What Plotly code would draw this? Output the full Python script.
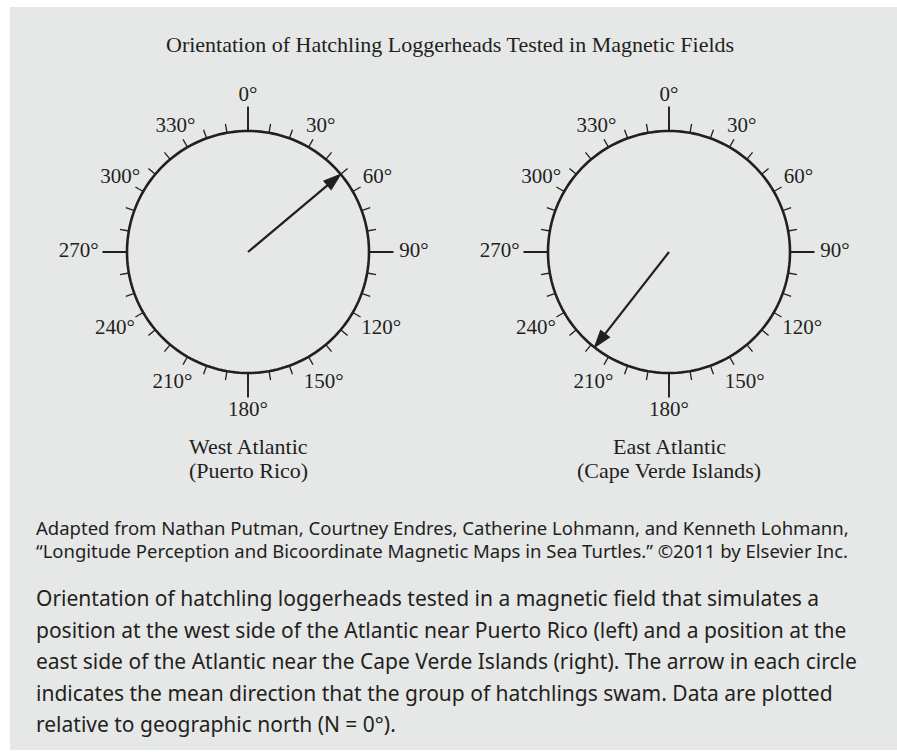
import plotly.graph_objects as go

# ---------------- data ----------------
title_text = "Orientation of Hatchling Loggerheads Tested in Magnetic Fields"
panel_names = ["West Atlantic", "East Atlantic"]
panel_places = ["(Puerto Rico)", "(Cape Verde Islands)"]
mean_direction_deg = [50, 218]          # mean swimming direction of each group
minor_tick_angles = list(range(0, 360, 10))
label_angles = [0, 30, 60, 90, 120, 150, 180, 210, 240, 270, 300, 330]
label_texts = [f"{a}°" for a in label_angles]
cardinal_angles = [0, 90, 180, 270]
source_lines = [
    "Adapted from Nathan Putman, Courtney Endres, Catherine Lohmann, and Kenneth Lohmann,",
    "“Longitude Perception and Bicoordinate Magnetic Maps in Sea Turtles.” ©2011 by Elsevier Inc.",
]
caption_lines = [
    "Orientation of hatchling loggerheads tested in a magnetic field that simulates a",
    "position at the west side of the Atlantic near Puerto Rico (left) and a position at the",
    "east side of the Atlantic near the Cape Verde Islands (right). The arrow in each circle",
    "indicates the mean direction that the group of hatchlings swam. Data are plotted",
    "relative to geographic north (N = 0°).",
]

# ---------------- style ----------------
W, H = 897, 752
ink = "#231f20"
bg = "#e6e7e7"
serif = "Liberation Serif, Times New Roman, serif"
sans = "Noto Sans, Open Sans, sans-serif"
centers_px = [248, 669]
cy_px = 252
R_px = 121            # circle radius in px
R_MAX = 1.5           # radial range (circle is drawn at r = 1)
minor_len = 9 / R_px
major_len = 24.5 / R_px
label_radius = {0: 1.29, 30: 1.20, 60: 1.235, 90: 1.372, 120: 1.27, 150: 1.25,
                180: 1.31, 210: 1.25, 240: 1.27, 270: 1.40, 300: 1.22, 330: 1.20}


def seg(angles, r0, r1):
    r, t = [], []
    for a in angles:
        r += [r0, r1, None]
        t += [a, a, None]
    return r, t


fig = go.Figure()

for i, d in enumerate(mean_direction_deg):
    pid = "polar" if i == 0 else f"polar{i + 1}"
    common = dict(subplot=pid, showlegend=False, hoverinfo="skip")
    # circle
    circ_t = list(range(0, 361, 2))
    fig.add_trace(go.Scatterpolar(r=[1] * len(circ_t), theta=circ_t, mode="lines",
                                  line=dict(color=ink, width=2.6), **common))
    # minor ticks
    r, t = seg(minor_tick_angles, 1, 1 + minor_len)
    fig.add_trace(go.Scatterpolar(r=r, theta=t, mode="lines",
                                  line=dict(color=ink, width=1.3), **common))
    # major ticks
    r, t = seg(cardinal_angles, 1, 1 + major_len)
    fig.add_trace(go.Scatterpolar(r=r, theta=t, mode="lines",
                                  line=dict(color=ink, width=1.9), **common))
    # degree labels
    fig.add_trace(go.Scatterpolar(
        r=[label_radius[a] for a in label_angles], theta=label_angles,
        mode="text", text=label_texts, textposition="middle center",
        textfont=dict(family=serif, size=21, color=ink), **common))
    # mean-direction arrow
    fig.add_trace(go.Scatterpolar(
        r=[0, 1], theta=[d, d], mode="lines+markers",
        line=dict(color=ink, width=2.2),
        marker=dict(symbol="arrow", size=[0, 18], angleref="previous",
                    color=ink, opacity=1, line=dict(width=1.2, color=ink)),
        **common))

polar_common = dict(
    bgcolor=bg,
    radialaxis=dict(visible=False, range=[0, R_MAX]),
    angularaxis=dict(rotation=90, direction="clockwise", showticklabels=False,
                     ticks="", showgrid=False, showline=False),
)


def dom(cx):
    rr = R_px * R_MAX
    return dict(x=[(cx - rr) / W, (cx + rr) / W],
                y=[1 - (cy_px + rr) / H, 1 - (cy_px - rr) / H])


annotations = []


def add_text(text, x_px, y_px, font, xanchor="center"):
    annotations.append(dict(
        text=text, x=x_px / W, y=1 - y_px / H, xref="paper", yref="paper",
        xanchor=xanchor, yanchor="middle", showarrow=False, font=font))


serif_font = dict(family=serif, size=22, color=ink)
add_text(title_text, 450, 44, serif_font)
for cx, n, p in zip(centers_px, panel_names, panel_places):
    add_text(n, cx, 446, serif_font)
    add_text(p, cx, 470, serif_font)
for k, line in enumerate(source_lines):
    add_text(line, 34, 527 + 23.5 * k, dict(family=sans, size=18.5, color=ink), "left")
for k, line in enumerate(caption_lines):
    add_text(line, 34, 598 + 31.5 * k, dict(family=sans, size=21, color=ink), "left")

fig.update_layout(
    width=W, height=H, autosize=False,
    margin=dict(l=0, r=0, t=0, b=0),
    paper_bgcolor="white", plot_bgcolor=bg,
    showlegend=False,
    polar=dict(domain=dom(centers_px[0]), **polar_common),
    polar2=dict(domain=dom(centers_px[1]), **polar_common),
    annotations=annotations,
    shapes=[dict(type="rect", xref="paper", yref="paper",
                 x0=10 / W, x1=1, y0=1 - 750 / H, y1=1 - 7 / H,
                 fillcolor=bg, line=dict(width=0), layer="below")],
)

fig.write_html(
    "out.html",
    config={"displayModeBar": False, "staticPlot": True},
    post_script="document.body.style.margin='0';document.body.style.overflow='hidden';",
)
